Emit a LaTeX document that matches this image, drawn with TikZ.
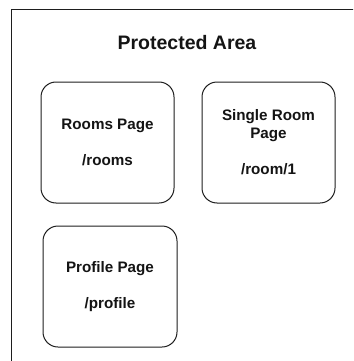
\documentclass[tikz,border=0pt]{standalone}
\usepackage{fontspec}
\setmainfont{Liberation Sans}
\usepackage{xcolor}
\usetikzlibrary{positioning}
\definecolor{ink}{RGB}{20,20,20}
\definecolor{edge}{RGB}{30,30,30}
\tikzset{
  area/.style={draw=edge,line width=1pt},
  heading/.style={font=\bfseries\fontsize{19.5}{23}\selectfont,text=ink},
  page/.style={draw=edge,line width=1pt,rounded corners=15pt,fill=white,
    minimum width=133pt,minimum height=121pt,align=center,inner sep=0pt,
    font=\bfseries\fontsize{15.2}{18}\selectfont,text=ink}
}
\begin{document}
\begin{tikzpicture}[x=1pt,y=-1pt]
  \useasboundingbox (0,0) rectangle (353,361);
  \clip (0,0) rectangle (353,361);
  \draw[area] (11,10) rectangle (420,420);
  \node[heading] (title) at (187,43) {Protected Area};
  \node[page] (rooms) at (107.5,142.5) {Rooms Page\\[18pt]/rooms};
  \node[page] (single) at (268.5,142.5) {Single Room\\Page\\[18pt]/room/1};
  \node[page,minimum width=134pt] (profile) at (110,286.5) {Profile Page\\[18pt]/profile};
\end{tikzpicture}
\end{document}
